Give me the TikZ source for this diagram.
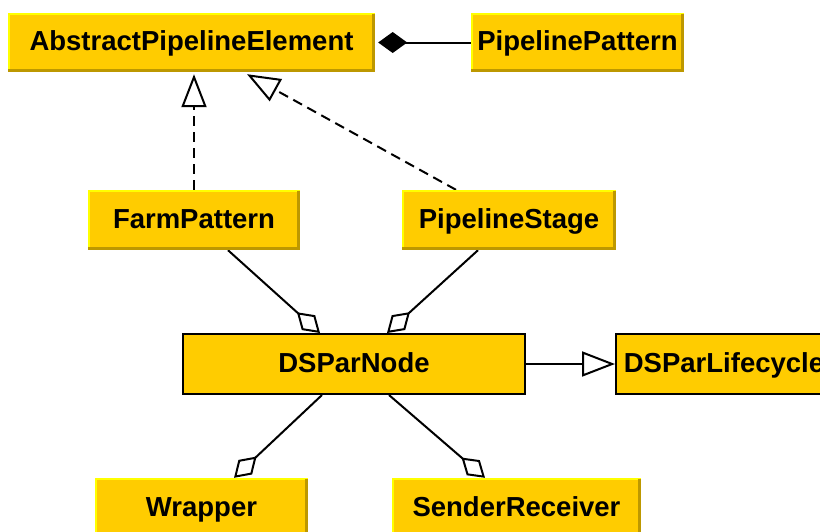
\documentclass[tikz,border=0pt]{standalone}
\usepackage{fontspec}
\setmainfont{Liberation Sans}
\usetikzlibrary{arrows.meta,backgrounds}

\definecolor{boxfill}{RGB}{255,204,0}
\definecolor{boxlite}{RGB}{255,255,0}
\definecolor{boxdark}{RGB}{189,152,0}

\tikzset{
  cls/.style={fill=boxfill, inner sep=0pt, text height=20pt, text depth=4pt,
    font=\fontsize{27.5}{30}\selectfont\bfseries},
  plain/.style={cls, draw=black, line width=2pt},
  conn/.style={draw=black, line width=2pt},
  dashconn/.style={conn, dash pattern=on 10pt off 6pt},
  realize/.style={-{Triangle[open, fill=white, length=33pt, width=25pt]}},
  aggr/.style={-{Diamond[open, fill=white, length=31pt, width=20pt]}},
  compo/.style={-{Diamond[fill=black, length=29pt, width=21pt]}},
}

% raised edge: light top and left, dark bottom and right
\newcommand\bevelbox[1]{%
  \fill[boxlite] (#1.south west) rectangle ([xshift=2pt]#1.north west);
  \fill[boxlite] (#1.north west) rectangle ([yshift=-2pt]#1.north east);
  \fill[boxdark] (#1.south west) rectangle ([yshift=3pt]#1.south east);
  \fill[boxdark] ([yshift=-1pt]#1.north east) rectangle ([xshift=-3pt]#1.south east);
}

\begin{document}
\begin{tikzpicture}[x=1pt, y=-1pt]
\useasboundingbox (0,0) rectangle (820,531);

\node[cls, minimum width=367pt, minimum height=59pt] (ape)   at (191.5,42.5) {AbstractPipelineElement};
\node[cls, minimum width=213pt, minimum height=59pt] (pp)    at (577.5,42.5) {PipelinePattern};
\node[cls, minimum width=212pt, minimum height=60pt] (farm)  at (194,220)    {FarmPattern};
\node[cls, minimum width=214pt, minimum height=60pt] (stage) at (509,220)    {PipelineStage};
\node[plain, minimum width=342pt, minimum height=60pt] (dsp)  at (354,364)   {DSParNode};
\node[plain, minimum width=216pt, minimum height=60pt] (life) at (724,364)   {DSParLifecycle};
\node[cls, minimum width=213pt, minimum height=60pt] (wrap)  at (201.5,508)  {Wrapper};
\node[cls, minimum width=248pt, minimum height=60pt] (sr)    at (516.5,508)  {SenderReceiver};

\foreach \n in {ape,pp,farm,stage,wrap,sr} {\bevelbox{\n}}

\begin{scope}[on background layer]
  % composition
  \draw[conn, compo] (pp.west) -- ([xshift=3pt]ape.east);
  % realizations
  \draw[dashconn, realize] (farm.north) -- ([yshift=-2pt]farm.north |- ape.south);
  \draw[dashconn, realize] ([xshift=-53pt]stage.north) -- ([xshift=55.5pt,yshift=-2pt]ape.south);
  \draw[conn, realize] (dsp.east) -- (life.west);
  % aggregations
  \draw[conn, aggr] ([xshift=34pt]farm.south) -- ([xshift=-34pt]dsp.north);
  \draw[conn, aggr] ([xshift=-31pt]stage.south) -- ([xshift=33pt]dsp.north);
  \draw[conn, aggr] ([xshift=-32pt]dsp.south) -- ([xshift=32.5pt]wrap.north);
  \draw[conn, aggr] ([xshift=35pt]dsp.south) -- ([xshift=-31.5pt]sr.north);
\end{scope}
\end{tikzpicture}
\end{document}
